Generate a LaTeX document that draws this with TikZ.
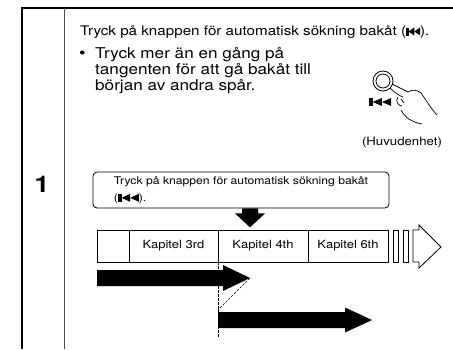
\documentclass[tikz,border=0pt]{standalone}
\usepackage{fontspec}
\setmainfont{TeX Gyre Heros}[FakeStretch=1.15]
\usetikzlibrary{calc,positioning}

% skip-back key symbol: bar and two triangles
\newcommand{\prevsym}[1][1]{\tikz[baseline=0pt,x=#1pt,y=1pt,sharp corners]{\fill[black] (0,-0.5) rectangle (2.4,7.5); \fill[black] (2.4,3.5) -- (8.2,7.5) -- (8.2,-0.5) -- cycle; \fill[black] (8.2,3.5) -- (14,7.5) -- (14,-0.5) -- cycle;}}

\begin{document}
\begin{tikzpicture}[x=1pt, y=-1pt,
    CELL/.style={rectangle, draw=black, line width=0.8pt, minimum height=32pt, inner sep=0pt, outer sep=0pt, font=\fontsize{11.3}{13}\selectfont},
    NOTE/.style={draw=black, line width=0.8pt, rectangle, rounded corners=4pt, minimum width=296pt, minimum height=36pt, align=left, inner sep=0pt, font=\fontsize{10.6}{17}\selectfont},
    TXT/.style={inner sep=0pt, anchor=base west},
    DASH/.style={line width=0.6pt, dash pattern=on 2.5pt off 1.5pt}
    ]
    \useasboundingbox (0,0) rectangle (453,349);
    % step frame
    \draw[line width=2.5pt] (453,8) -- (22,8) -- (22,349);
    \draw[line width=0.8pt, black!70] (64,8) -- (64,349);
    \node[font=\bfseries\fontsize{23}{23}\selectfont] (num) at (42,184) {1};

    % instructions
    \node[TXT, font=\fontsize{13.2}{16}\selectfont] (title) at (80,35) {Tryck på knappen för automatisk sökning bakåt (\prevsym).};
    \node[TXT, font=\fontsize{16}{16}\selectfont] (dot) at (79,58) {\textbullet};
    \node[TXT, font=\fontsize{14.9}{16}\selectfont] (b1) at (95,58) {Tryck mer än en gång på};
    \node[TXT, font=\fontsize{14.9}{16}\selectfont] (b2) at (95,74) {tangenten för att gå bakåt till};
    \node[TXT, font=\fontsize{14.9}{16}\selectfont] (b3) at (95,90) {början av andra spår.};

    % key and hand
    \draw[line width=0.8pt] (383,81) circle (10) (383,81) circle (7);
    \node[inner sep=0pt] (keysym) at (380,102) {\prevsym[1.6]};
    \draw[line width=0.7pt] (392,84) -- (408,92)
        .. controls (412,89) and (418,90) .. (421,93)
        .. controls (426,100) and (432,110) .. (437,115);
    \draw[line width=0.7pt] (390,88) .. controls (395,93) and (400,96) .. (403,97);
    \draw[line width=0.7pt] (398,97) .. controls (395,101) and (398,106) .. (402,106);
    \draw[line width=0.7pt] (401,99) -- (404,103);
    \draw[line width=0.7pt] (401,110) .. controls (405,118) and (412,122) .. (422,124);
    \node[font=\fontsize{11.5}{13}\selectfont] (unit) at (402,143) {(Huvudenhet)};

    % note box and pointer
    \node[NOTE] (note) at (241,190) {Tryck på knappen för automatisk sökning bakåt\\(\prevsym[1.5]).};
    \fill ($(note.south)+(1,0)$) -- ++(16,0) -- ++(0,5) -- ++(7,0) -- ++(-15,14) -- ++(-15,-14) -- ++(7,0) -- cycle;

    % chapter bar
    \node[CELL, minimum width=32pt] (c0) at (113,246) {};
    \node[CELL, minimum width=89pt, right=0pt of c0] (c3) {Kapitel 3rd};
    \node[CELL, minimum width=90pt, right=0pt of c3] (c4) {Kapitel 4th};
    \node[CELL, minimum width=80pt, right=0pt of c4] (c6) {Kapitel 6th};
    \node[CELL, minimum width=5pt, right=5pt of c6] (g1) {};
    \node[CELL, minimum width=5pt, right=5pt of g1] (g2) {};
    \draw[line width=0.8pt] ($(g2.north east)+(5,0)$) -- ++(6,0) -- ++(0,-5) -- ++(22,22) -- ++(-22,21) -- ++(0,-6) -- ++(-6,0) -- cycle;

    % play position arrows
    \fill ($(c0.south west)+(0,8)$) -- ++(126,0) -- ++(0,-5) -- ++(27,13) coordinate (tip1) -- ++(-27,13) -- ++(0,-5) -- ++(-126,0) -- cycle;
    \fill ($(c4.south west)+(0,50)$) -- ++(127,0) -- ++(0,-4.5) -- ++(27,12.5) -- ++(-27,12.5) -- ++(0,-4.5) -- ++(-127,0) -- cycle;
    \draw[DASH] (c4.south west) -- ++(0,75);
    \draw[DASH] (tip1) -- ($(c4.south west)+(0,48)$);
\end{tikzpicture}
\end{document}
